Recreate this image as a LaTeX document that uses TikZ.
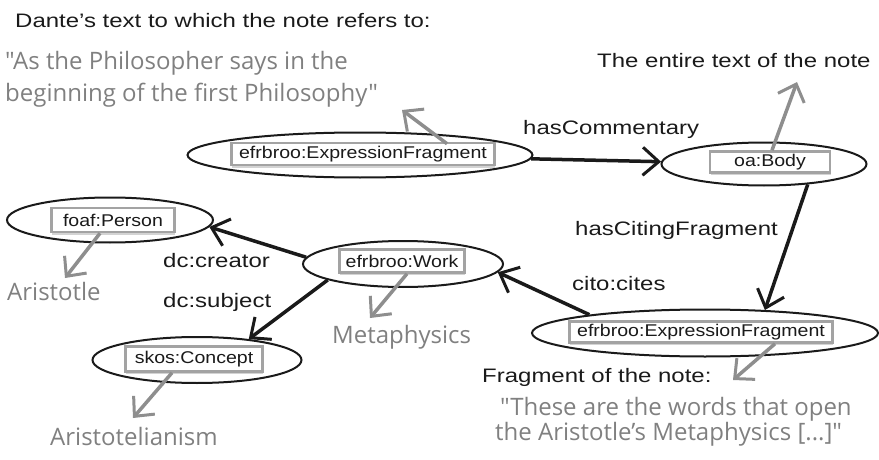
\documentclass[tikz,border=0pt]{standalone}
\usepackage{fontspec}
\setmainfont{Liberation Sans}
\newfontfamily\lblfont[FakeStretch=1.23]{Liberation Sans}
\newfontfamily\clsfont[FakeStretch=1.15]{Liberation Sans}
\newfontfamily\handfont[FakeStretch=1.0]{Open Sans}
\usetikzlibrary{shapes.geometric,arrows.meta,shadows}
\definecolor{hgray}{HTML}{808080}
\definecolor{agray}{HTML}{8E8E8E}
\definecolor{bgray}{HTML}{A3A3A3}
\definecolor{ink}{HTML}{1A1A1A}
\begin{document}
\begin{tikzpicture}[x=1pt,y=-1pt,
  ell/.style={draw=ink, line width=2pt, ellipse, inner sep=0pt},
  cls/.style={draw=bgray, line width=2.5pt, fill=white, inner sep=0pt,
    drop shadow={shadow xshift=0.5pt, shadow yshift=-2.5pt, opacity=0.35, fill=gray},
    font=\clsfont\fontsize{17}{17}\selectfont, text=ink},
  lab/.style={font=\lblfont\fontsize{19.5}{20}\selectfont, text=ink, inner sep=0pt, anchor=base west},
  hw/.style={font=\handfont\fontsize{24}{24}\selectfont, text=hgray, inner sep=0pt, anchor=base west},
  rel/.style={draw=ink, line width=3.5pt, -{Straight Barb[length=16pt,width=28pt,line width=3pt]}},
  lit/.style={draw=agray, line width=3.5pt, -{Straight Barb[length=15pt,width=28pt,line width=3pt]}}
]
\useasboundingbox (0,0) rectangle (879,460);

% ellipses
\node[ell, minimum width=345pt, minimum height=45pt] (e1) at (360,155) {};
\node[ell, minimum width=205pt, minimum height=43pt] (body) at (764,164) {};
\node[ell, minimum width=346pt, minimum height=47pt] (frag) at (705,333) {};
\node[ell, minimum width=200pt, minimum height=46pt] (work) at (403,264) {};
\node[ell, minimum width=206pt, minimum height=45pt] (foaf) at (110,220) {};
\node[ell, minimum width=209pt, minimum height=46pt] (skos) at (197,360) {};

% class boxes
\node[cls, minimum width=263pt, minimum height=22pt] (r1) at (363,154) {efrbroo:ExpressionFragment};
\node[cls, minimum width=120pt, minimum height=21pt] (rbody) at (770,162) {oa:Body};
\node[cls, minimum width=263pt, minimum height=21pt] (rfrag) at (701,332) {efrbroo:ExpressionFragment};
\node[cls, minimum width=125pt, minimum height=23pt] (rwork) at (402,261) {efrbroo:Work};
\node[cls, minimum width=123pt, minimum height=24pt] (rfoaf) at (113,220) {foaf:Person};
\node[cls, minimum width=137pt, minimum height=25pt] (rskos) at (194,359) {skos:Concept};

% texts
\node[lab] (dante) at (15,28) {Dante’s text to which the note refers to:};
\node[hw] (q1a) at (5,70) {"As the Philosopher says in the};
\node[hw] (q1b) at (5,102) {beginning of the first Philosophy"};
\node[lab] (entire) at (597,68) {The entire text of the note};
\node[lab] (hascomm) at (523,135) {hasCommentary};
\node[lab] (hascit) at (575,235) {hasCitingFragment};
\node[lab] (cites) at (572,290) {cito:cites};
\node[lab] (creator) at (163,267) {dc:creator};
\node[lab] (subject) at (163,307) {dc:subject};
\node[hw] (aristotle) at (7,300) {Aristotle};
\node[hw] (meta) at (332,343) {Metaphysics};
\node[hw] (aristism) at (50,445) {Aristotelianism};
\node[lab] (fragnote) at (482,382) {Fragment of the note:};
\node[hw] (q2a) at (500,415) {"These are the words that open};
\node[hw] (q2b) at (495,440) {the Aristotle’s Metaphysics [...]"};

% free ends of literal arrows
\coordinate (t1) at (402,110);
\coordinate (t2) at (797,82);
\coordinate (t3) at (370,318);
\coordinate (t4) at (65,278);
\coordinate (t5) at (133,418);
\coordinate (t6) at (733,380);

% relations
\draw[rel] (e1) -- (body);
\draw[rel] (body.-25) -- (frag.21);
\draw[rel] (frag.171) -- (work.-5);
\draw[rel] (work.176) -- (foaf.-4);
\draw[rel] (work.-168) -- (skos.22);

% literal arrows
\draw[lit] ([xshift=84pt,yshift=-2pt]r1.north) -- (t1);
\draw[lit] ([xshift=2pt]rbody.north) -- (t2);
\draw[lit] ([xshift=5pt]rwork.south) -- (t3);
\draw[lit] ([xshift=-13pt]rfoaf.south) -- (t4);
\draw[lit] ([xshift=-22pt]rskos.south) -- (t5);
\draw[lit] ([xshift=74pt]rfrag.south) -- (t6);
\end{tikzpicture}
\end{document}
